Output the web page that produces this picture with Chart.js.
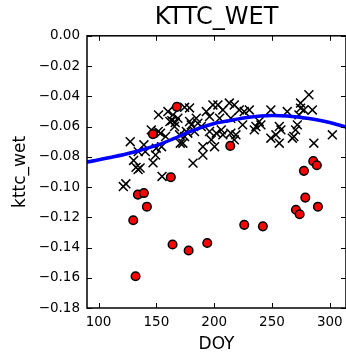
<!DOCTYPE html>
<html>
<head>
<meta charset="utf-8">
<script src="https://cdn.jsdelivr.net/npm/chart.js"></script>
<style>
  html, body { margin: 0; padding: 0; background: #fff; }
  #wrap { width: 346px; height: 357px; }
</style>
</head>
<body>
<div id="wrap"><canvas id="chart" width="346" height="357"></canvas></div>
<script>
// Black crosses (all samples)
const doyCross = [121.4, 123.6, 127.4, 130.3, 132.4, 134.2, 135.9, 139.2, 140.4, 147.1,
    149.3, 149.9, 151.9, 154.9, 145.6, 153.6, 158.0, 160.0, 163.4, 166.3,
    165.7, 170.7, 174.4, 178.7, 181.7, 174.4, 177.2, 151.6, 161.7, 134.3,
    154.5, 164.3, 168.6, 193.2, 198.9, 203.2, 207.5, 196.0, 204.7, 184.5,
    180.2, 188.8, 175.9, 170.1, 172.9, 196.0, 201.8, 206.1, 197.5, 190.2,
    190.2, 200.3, 183.0, 178.7, 185.9, 207.5, 213.1, 217.4, 221.7, 226.0,
    230.4, 224.6, 214.4, 249.0, 239.0, 236.1, 234.7, 240.4, 256.3, 257.7,
    253.4, 249.0, 256.3, 217.4, 218.8, 214.4, 281.9, 274.7, 274.7, 277.6,
    284.9, 273.3, 263.2, 271.9, 270.4, 268.9, 267.6, 286.2, 302.2];
const kttcCross = [-0.0997, -0.0979, -0.0700, -0.0824, -0.0870, -0.0884, -0.0874, -0.0721, -0.0766, -0.0840,
    -0.0788, -0.0743, -0.0523, -0.0930, -0.0622, -0.0644, -0.0666, -0.0501, -0.0561, -0.0574,
    -0.0600, -0.0710, -0.0473, -0.0477, -0.0842, -0.0666, -0.0644, -0.0633, -0.0567, -0.0766,
    -0.0733, -0.0523, -0.0545, -0.0501, -0.0457, -0.0457, -0.0490, -0.0534, -0.0545, -0.0545,
    -0.0589, -0.0600, -0.0633, -0.0655, -0.0710, -0.0633, -0.0644, -0.0622, -0.0688, -0.0733,
    -0.0788, -0.0733, -0.0633, -0.0567, -0.0578, -0.0655, -0.0445, -0.0457, -0.0490, -0.0501,
    -0.0490, -0.0589, -0.0545, -0.0490, -0.0567, -0.0600, -0.0622, -0.0589, -0.0600, -0.0622,
    -0.0655, -0.0677, -0.0710, -0.0688, -0.0655, -0.0644, -0.0390, -0.0445, -0.0479, -0.0490,
    -0.0490, -0.0523, -0.0501, -0.0589, -0.0622, -0.0666, -0.0677, -0.0710, -0.0655];

// Red circles (flagged samples)
const doyRed = [134.0, 139.2, 141.8, 130.0, 132.0, 164.0, 177.9, 194.0, 226.0, 242.1,
    270.7, 273.9, 278.8, 289.7, 167.7, 147.0, 162.5, 213.9, 285.7, 288.8, 277.6];
const kttcRed = [-0.105, -0.104, -0.113, -0.122, -0.159, -0.138, -0.142, -0.137, -0.125, -0.126,
    -0.115, -0.118, -0.107, -0.113, -0.047, -0.065, -0.0935, -0.0728, -0.0829, -0.0856, -0.0893];

// Blue fitted curve
const doyFit = [90, 110, 130, 150, 165, 180, 200, 215, 230, 250, 265, 280, 295, 315];
const kttcFit = [-0.0835, -0.0805, -0.077, -0.0725, -0.068, -0.063, -0.058, -0.0558, -0.0538, -0.0527, -0.0532, -0.0545, -0.0565, -0.0605];

const xTicks = [100, 150, 200, 250, 300];
const yTicks = [0, -0.02, -0.04, -0.06, -0.08, -0.10, -0.12, -0.14, -0.16, -0.18];

function pairs(xs, ys) {
    return xs.map((x, i) => ({ x: x, y: ys[i] }));
}

// matplotlib-like frame with inward ticks on all sides
const framePlugin = {
    id: 'frame',
    afterDraw(chart) {
        const ctx = chart.ctx;
        const a = chart.chartArea;
        const xs = chart.scales.x, ys = chart.scales.y;
        ctx.save();
        ctx.strokeStyle = '#000';
        ctx.lineWidth = 1;
        xTicks.forEach(v => {
            const px = Math.round(xs.getPixelForValue(v)) + 0.5;
            ctx.beginPath();
            ctx.moveTo(px, a.bottom); ctx.lineTo(px, a.bottom - 5);
            ctx.moveTo(px, a.top); ctx.lineTo(px, a.top + 5);
            ctx.stroke();
        });
        yTicks.forEach(v => {
            const py = Math.round(ys.getPixelForValue(v)) + 0.5;
            ctx.beginPath();
            ctx.moveTo(a.left, py); ctx.lineTo(a.left + 5, py);
            ctx.moveTo(a.right, py); ctx.lineTo(a.right - 5, py);
            ctx.stroke();
        });
        ctx.lineWidth = 1.5;
        ctx.strokeRect(a.left, a.top, a.right - a.left, a.bottom - a.top);
        ctx.restore();
    }
};

Chart.defaults.font.family = 'DejaVu Sans';
Chart.defaults.color = '#000';

new Chart(document.getElementById('chart'), {
    type: 'scatter',
    data: {
        datasets: [
            {
                data: pairs(doyCross, kttcCross),
                pointStyle: 'crossRot',
                pointRadius: 6.3,
                borderColor: '#000',
                borderWidth: 1.5,
                order: 3
            },
            {
                data: pairs(doyRed, kttcRed),
                pointStyle: 'circle',
                pointRadius: 4.3,
                backgroundColor: '#ff0000',
                borderColor: '#000',
                borderWidth: 1.5,
                order: 2
            },
            {
                data: pairs(doyFit, kttcFit),
                showLine: true,
                pointRadius: 0,
                borderColor: '#0000ff',
                borderWidth: 3.5,
                tension: 0.4,
                order: 1
            }
        ]
    },
    options: {
        responsive: false,
        animation: false,
        layout: { padding: 0, autoPadding: false },
        plugins: {
            legend: { display: false },
            tooltip: { enabled: false },
            title: {
                display: true,
                fullSize: false,
                text: 'KTTC_WET',
                font: { size: 24, weight: 'normal' },
                padding: { top: 3, bottom: 4 }
            }
        },
        scales: {
            x: {
                type: 'linear',
                min: 90,
                max: 314,
                grid: { display: false, drawTicks: false },
                border: { display: false },
                afterBuildTicks: s => { s.ticks = xTicks.map(v => ({ value: v })); },
                afterFit: s => { s.height = 49; s.paddingLeft = 0; s.paddingRight = 0; },
                ticks: { font: { size: 13.5 }, padding: 6, maxRotation: 0 },
                title: { display: true, text: 'DOY', font: { size: 17 }, padding: { top: 0, bottom: 2 } }
            },
            y: {
                type: 'linear',
                min: -0.18,
                max: 0,
                grid: { display: false, drawTicks: false },
                border: { display: false },
                afterBuildTicks: s => { s.ticks = yTicks.map(v => ({ value: v })); },
                afterFit: s => { s.width = 87; s.paddingTop = 0; s.paddingBottom = 0; },
                ticks: {
                    font: { size: 13.5 },
                    padding: 7,
                    callback: v => (v < 0 ? '\u2212' : '') + Math.abs(v).toFixed(2)
                },
                title: { display: true, text: 'kttc_wet', font: { size: 17 }, padding: { top: 10, bottom: 0 } }
            }
        }
    },
    plugins: [framePlugin]
});
</script>
</body>
</html>
